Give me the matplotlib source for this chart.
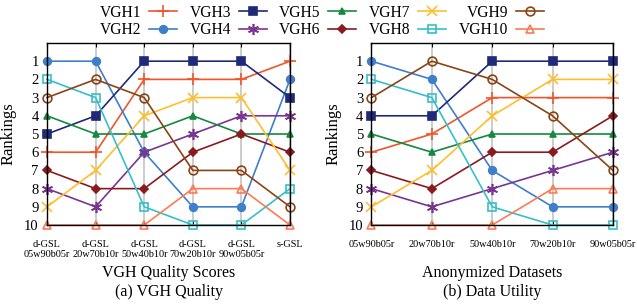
import matplotlib
matplotlib.use('Agg')
import matplotlib.pyplot as plt
from matplotlib.lines import Line2D

plt.rcParams['font.family'] = ['Liberation Serif', 'DejaVu Serif']

# --- data -------------------------------------------------------------
names = ['VGH1', 'VGH2', 'VGH3', 'VGH4', 'VGH5',
         'VGH6', 'VGH7', 'VGH8', 'VGH9', 'VGH10']

quality_ticks = ['d-GSL\n05w90b05r', 'd-GSL\n20w70b10r', 'd-GSL\n50w40b10r',
                 'd-GSL\n70w20b10r', 'd-GSL\n90w05b05r', 's-GSL']
utility_ticks = ['05w90b05r', '20w70b10r', '50w40b10r', '70w20b10r', '90w05b05r']

# rankings per VGH, (a) VGH quality
quality_rank = [
  [6, 6, 2, 2, 2, 1],
  [1, 1, 6, 9, 9, 2],
  [5, 4, 1, 1, 1, 3],
  [8, 9, 6, 5, 4, 4],
  [4, 5, 5, 4, 5, 5],
  [7, 8, 8, 6, 5, 6],
  [9, 7, 4, 3, 3, 7],
  [2, 3, 9, 10, 10, 8],
  [3, 2, 3, 7, 7, 9],
  [10, 10, 10, 8, 8, 10],
]

# rankings per VGH, (b) data utility
utility_rank = [
  [6, 5, 3, 3, 3],
  [1, 2, 7, 9, 9],
  [4, 4, 1, 1, 1],
  [8, 9, 8, 7, 6],
  [5, 6, 5, 5, 5],
  [7, 8, 6, 6, 4],
  [9, 7, 4, 2, 2],
  [2, 3, 9, 10, 10],
  [3, 1, 2, 4, 7],
  [10, 10, 10, 8, 8],
]

# --- styles -----------------------------------------------------------
colors = ['#f2552a', '#3e7ecb', '#1f2a78', '#7a3591', '#15893f',
          '#8b1a1e', '#fdbf2d', '#35bfca', '#8a4416', '#fb7b55']
markers = ['+', 'o', 's', (6, 2, 0), '^', 'D', 'x', 's', 'o', '^']
filled = [True, True, True, True, True, True, True, False, False, False]
msizes = [8, 5.5, 5.8, 8, 5, 4.3, 7.5, 6, 6.3, 6.3]


def draw(ax, ranks, ticks, xlabel, caption):
  xs = list(range(len(ticks)))
  for i, r in enumerate(ranks):
    ax.plot(xs, r, color=colors[i], marker=markers[i], markersize=msizes[i],
            markerfacecolor=colors[i] if filled[i] else 'none',
            markeredgewidth=1.2, linewidth=1.2, clip_on=False, zorder=3)
  ax.set_xlim(0, len(ticks) - 1)
  ax.set_ylim(10, 0)
  ax.set_yticks(range(1, 11))
  ax.set_xticks(xs)
  ax.set_xticklabels(ticks, fontsize=7.4, linespacing=1.15)
  ax.tick_params(axis='y', labelsize=10.5, direction='in', length=0, pad=6)
  ax.tick_params(axis='x', direction='in', length=3, pad=10.5, top=True)
  ax.grid(True, axis='x', color='#c4c4c4', linewidth=1.2)
  for s in ax.spines.values():
    s.set_zorder(4)
    s.set_linewidth(1.0)
  ax.set_ylabel('Rankings', fontsize=12)
  ax.yaxis.set_label_coords(-0.125, 0.5)
  ax.text(0.5, -0.264, xlabel, transform=ax.transAxes, ha='center',
          va='center', fontsize=11.5)
  ax.text(0.5, -0.37, caption, transform=ax.transAxes, ha='center',
          va='center', fontsize=11.5)


fig = plt.figure(figsize=(6.37, 3.07), dpi=100)
ax1 = fig.add_axes([0.0738, 0.267, 0.3815, 0.593])
ax2 = fig.add_axes([0.5832, 0.267, 0.379, 0.593])

draw(ax1, quality_rank, quality_ticks, 'VGH Quality Scores', '(a) VGH Quality')
draw(ax2, utility_rank, utility_ticks, 'Anonymized Datasets', '(b) Data Utility')

handles = [Line2D([], [], color=colors[i], marker=markers[i], markersize=msizes[i],
                  markerfacecolor=colors[i] if filled[i] else 'none',
                  markeredgewidth=1.2, linewidth=1.2)
           for i in range(len(names))]
fig.legend(handles, names, loc='center', bbox_to_anchor=(0.505, 0.93),
           ncol=5, frameon=False, markerfirst=False, fontsize=11.2,
           handlelength=1.8, handletextpad=0.5, columnspacing=0.8,
           labelspacing=0.12, borderpad=0, borderaxespad=0)

fig.savefig('out.png', dpi=100)
